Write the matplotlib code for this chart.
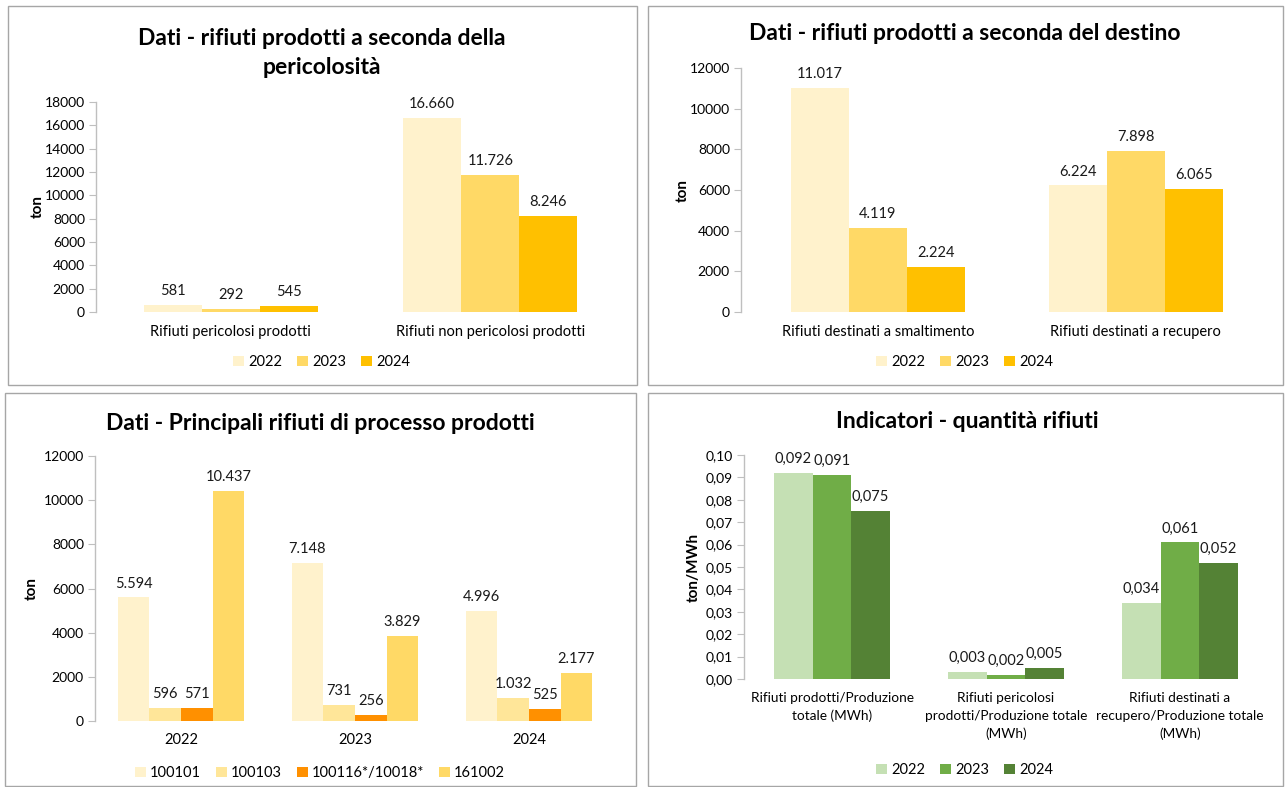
import matplotlib
matplotlib.use('Agg')
import numpy as np
import matplotlib.pyplot as plt
from matplotlib.patches import Rectangle, Patch
from matplotlib.font_manager import fontManager

W, H = 1285, 787
fams = {f.name for f in fontManager.ttflist}
FONT = 'Liberation Sans Narrow' if 'Liberation Sans Narrow' in fams else 'Lato'
plt.rcParams['font.family'] = [FONT, 'DejaVu Sans']

# ---------------- data ----------------
years = ['2022', '2023', '2024']

# Panel 1: pericolosità
p1_title = 'Dati - rifiuti prodotti a seconda della\npericolosità'
p1_cats = ['Rifiuti pericolosi prodotti', 'Rifiuti non pericolosi prodotti']
p1_2022 = [581, 16660]
p1_2023 = [292, 11726]
p1_2024 = [545, 8246]
p1_ticks = [0, 2000, 4000, 6000, 8000, 10000, 12000, 14000, 16000, 18000]

# Panel 2: destino
p2_title = 'Dati - rifiuti prodotti a seconda del destino'
p2_cats = ['Rifiuti destinati a smaltimento', 'Rifiuti destinati a recupero']
p2_2022 = [11017, 6224]
p2_2023 = [4119, 7898]
p2_2024 = [2224, 6065]
p2_ticks = [0, 2000, 4000, 6000, 8000, 10000, 12000]

# Panel 3: principali rifiuti di processo
p3_title = 'Dati - Principali rifiuti di processo prodotti'
p3_cats = ['2022', '2023', '2024']
p3_series = ['100101', '100103', '100116*/10018*', '161002']
p3_100101 = [5594, 7148, 4996]
p3_100103 = [596, 731, 1032]
p3_100116 = [571, 256, 525]
p3_161002 = [10437, 3829, 2177]
p3_ticks = [0, 2000, 4000, 6000, 8000, 10000, 12000]

# Panel 4: indicatori
p4_title = 'Indicatori - quantità rifiuti'
p4_cats = ['Rifiuti prodotti/Produzione\ntotale (MWh)',
           'Rifiuti pericolosi\nprodotti/Produzione totale\n(MWh)',
           'Rifiuti destinati a\nrecupero/Produzione totale\n(MWh)']
p4_2022 = [0.092, 0.003, 0.034]
p4_2023 = [0.091, 0.002, 0.061]
p4_2024 = [0.075, 0.005, 0.052]
p4_ticks = [0.00, 0.01, 0.02, 0.03, 0.04, 0.05, 0.06, 0.07, 0.08, 0.09, 0.10]

yellow = ['#FFF2CC', '#FFD966', '#FFC000']
p3_colors = ['#FFF2CC', '#FFE699', '#FF9000', '#FFD966']
green = ['#C5E0B4', '#70AD47', '#548235']

fig = plt.figure(figsize=(W / 100, H / 100), dpi=100)


def box(x0, y0, x1, y1):
    fig.patches.append(Rectangle((x0 / W, 1 - y1 / H), (x1 - x0) / W, (y1 - y0) / H,
                                 transform=fig.transFigure, fill=False,
                                 edgecolor='#A6A6A6', lw=1.0))


def add_ax(x0, x1, y0, y1):
    return fig.add_axes([x0 / W, 1 - y1 / H, (x1 - x0) / W, (y1 - y0) / H])


def it_int(v):
    return f'{v:,}'.replace(',', '.')


def it_dec(v):
    return f'{v:.3f}'.replace('.', ',')


def style(ax, ticks, fmt, cats, ylabel, ylab_x, catsize=10.5):
    for s in ['top', 'right', 'bottom']:
        ax.spines[s].set_visible(False)
    ax.spines['left'].set_color('#BFBFBF')
    ax.spines['left'].set_linewidth(1.0)
    ax.set_yticks(ticks)
    ax.set_yticklabels([fmt(t) for t in ticks])
    ax.tick_params(axis='y', length=5, color='#BFBFBF', labelsize=10, pad=3)
    ax.set_xticks(range(len(cats)))
    ax.set_xticklabels(cats)
    ax.tick_params(axis='x', length=0, labelsize=catsize, pad=9)
    ax.set_ylabel(ylabel, fontsize=11, fontweight='bold')
    ax.yaxis.set_label_coords(ylab_x, 0.5)


def bars(ax, series, colors, bw, labfmt):
    n = len(series)
    for i, (vals, c) in enumerate(zip(series, colors)):
        x = np.arange(len(vals)) + (i - (n - 1) / 2) * bw
        ax.bar(x, vals, width=bw, color=c, edgecolor='none')
        for xi, v in zip(x, vals):
            ax.annotate(labfmt(v), (xi, v), xytext=(0, 5), textcoords='offset points',
                        ha='center', va='bottom', fontsize=10.5, color='#1a1a1a')


def legend(labels, colors, cx, cy):
    handles = [Patch(facecolor=c, edgecolor='none') for c in colors]
    fig.legend(handles, labels, loc='center', bbox_to_anchor=(cx / W, 1 - cy / H),
               ncol=len(labels), frameon=False, fontsize=10.5, handlelength=0.75,
               handleheight=0.75, handletextpad=0.3, columnspacing=1.0)


# ---------------- panel 1 ----------------
box(8, 6, 637, 385)
fig.text(322 / W, 1 - 53 / H, p1_title, ha='center', va='center', fontsize=16.5,
         fontweight='bold', linespacing=1.5)
ax1 = add_ax(96, 620, 102, 312)
bars(ax1, [p1_2022, p1_2023, p1_2024], yellow, 0.224, it_int)
ax1.set_xlim(-0.52, 1.5)
ax1.set_ylim(0, 18000)
style(ax1, p1_ticks, lambda t: f'{t}', p1_cats, 'ton', -0.098)
legend(years, yellow, 322, 362)

# ---------------- panel 2 ----------------
box(648, 6, 1283, 385)
fig.text(965 / W, 1 - 33 / H, p2_title, ha='center', va='center', fontsize=16.5,
         fontweight='bold')
ax2 = add_ax(741, 1265, 68, 312)
bars(ax2, [p2_2022, p2_2023, p2_2024], yellow, 0.225, it_int)
ax2.set_xlim(-0.53, 1.5)
ax2.set_ylim(0, 12000)
style(ax2, p2_ticks, lambda t: f'{t}', p2_cats, 'ton', -0.097)
legend(years, yellow, 965, 362)

# ---------------- panel 3 ----------------
box(5, 393, 636, 786)
fig.text(320 / W, 1 - 423 / H, p3_title, ha='center', va='center', fontsize=16.5,
         fontweight='bold')
ax3 = add_ax(95, 616, 456, 721)
bars(ax3, [p3_100101, p3_100103, p3_100116, p3_161002], p3_colors, 0.182, it_int)
ax3.set_xlim(-0.494, 2.5)
ax3.set_ylim(0, 12000)
style(ax3, p3_ticks, lambda t: f'{t}', p3_cats, 'ton', -0.108)
legend(p3_series, p3_colors, 320, 773)

# ---------------- panel 4 ----------------
box(648, 393, 1283, 786)
fig.text(967 / W, 1 - 422 / H, p4_title, ha='center', va='center', fontsize=16.5,
         fontweight='bold')
ax4 = add_ax(744, 1267, 455, 679)
bars(ax4, [p4_2022, p4_2023, p4_2024], green, 0.222, it_dec)
ax4.set_xlim(-0.506, 2.5)
ax4.set_ylim(0, 0.10)
style(ax4, p4_ticks, lambda t: f'{t:.2f}'.replace('.', ','), p4_cats, 'ton/MWh', -0.082,
      catsize=9.8)
ax4.tick_params(axis='x', pad=9)
for lab in ax4.get_xticklabels():
    lab.set_verticalalignment('top')
    lab.set_linespacing(1.6)
legend(years, green, 965, 770)

fig.savefig('out.png', dpi=100)
